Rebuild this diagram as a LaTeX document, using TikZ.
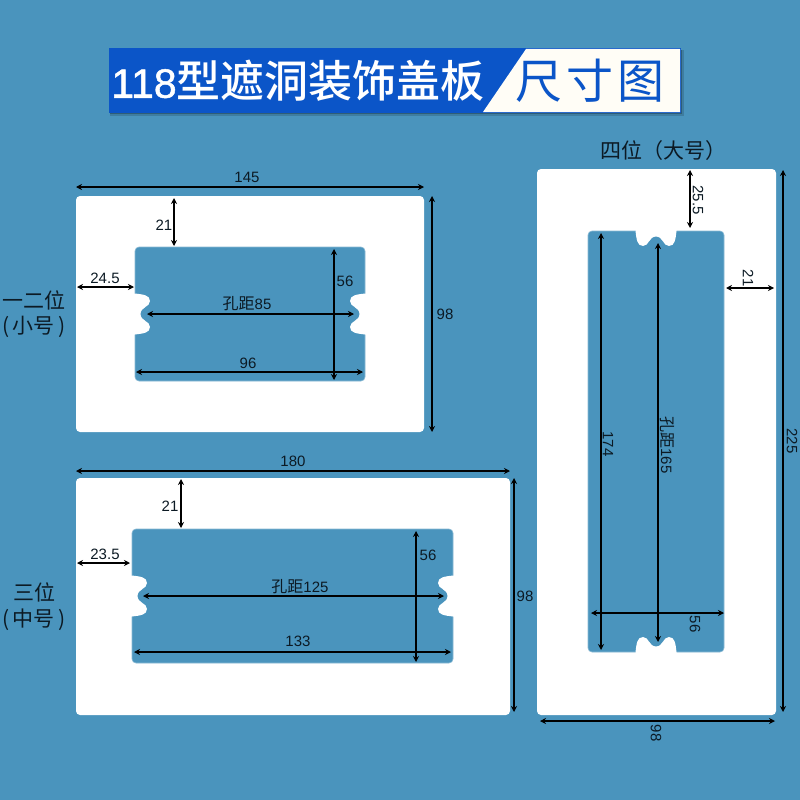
\documentclass[tikz,border=0pt]{standalone}
\usepackage{fontspec}
\setmainfont{Liberation Sans}
\newfontfamily\cjk{Noto Sans CJK SC}
\newfontfamily\cjkbold{Noto Sans CJK SC Medium}
\newfontfamily\titledigits[FakeBold=1.2]{Liberation Sans}
\usetikzlibrary{arrows.meta}

\definecolor{sheet}{HTML}{4A94BD}
\definecolor{barblue}{HTML}{0B55C8}
\definecolor{barcream}{HTML}{FFFDF6}
\definecolor{ink}{HTML}{0C1A24}

\tikzset{
  panel/.style={fill=white, rounded corners=4pt},
  hole/.style={fill=sheet, draw=sheet!65!white, line width=0.6pt, rounded corners=4pt},
  dimline/.style={{Stealth[length=6pt,width=6pt]}-{Stealth[length=6pt,width=6pt]}, line width=1.7pt, color=black},
  dimlabel/.style={inner sep=0pt, text=ink, font=\fontsize{15}{15}\selectfont},
  sizelabel/.style={inner sep=0pt, text=ink, font=\cjk\fontsize{21}{21}\selectfont},
  notch/.pic={
    \fill[white] (-1,-20.5) -- (0,-20.5) .. controls (8,-19.5) and (15,-19) .. (15,-13)
      .. controls (15,-7) and (5.5,-7) .. (5.5,0)
      .. controls (5.5,7) and (15,7) .. (15,13)
      .. controls (15,19) and (8,19.5) .. (0,20.5) -- (-1,20.5) -- cycle;
  }
}

\begin{document}
\begin{tikzpicture}[x=1pt, y=-1pt]
  \useasboundingbox (0,0) rectangle (800,800);
  \fill[sheet] (0,0) rectangle (800,800);

  % title bar
  \fill[black, opacity=0.15] (110,50) rectangle (684,116);
  \fill[black, opacity=0.25] (110,50) rectangle (682,114);
  \fill[barblue] (109,48) rectangle (681,113);
  \fill[barcream] (526,49) -- (680,49) -- (680,112) -- (483,112) -- cycle;
  \node[inner sep=0pt, text=white, font=\cjkbold\fontsize{44}{44}\selectfont] (titleleft) at (298,81) {{\titledigits\fontsize{41}{41}\selectfont 118}型遮洞装饰盖板};
  \node[inner sep=0pt, text=barblue, font=\cjk\fontsize{47}{47}\selectfont] (titleright) at (590,81) {尺\hspace{4pt}寸\hspace{4pt}图};

  % panels
  \fill[panel] (76,196) rectangle (424,432);
  \draw[hole] (135,247) rectangle (365,381);
  \pic at (135,314) {notch};
  \pic[rotate=180] at (365,314) {notch};

  \fill[panel] (76,478) rectangle (510,715);
  \draw[hole] (132,529) rectangle (453,663);
  \pic at (132,596) {notch};
  \pic[rotate=180] at (453,596) {notch};

  \fill[panel] (537,169) rectangle (776,715);
  \draw[hole] (588,231) rectangle (724,652);
  \pic[rotate=-90] at (656,231) {notch};
  \pic[rotate=90] at (656,652) {notch};

  % small panel
  \coordinate (sa) at (76,187);
  \coordinate (sb) at (424,187);
  \coordinate (sc) at (432,196);
  \coordinate (sd) at (432,432);
  \coordinate (se) at (174,198);
  \coordinate (sf) at (174,246);
  \coordinate (sg) at (77,287);
  \coordinate (sh) at (134,287);
  \coordinate (si) at (147,314);
  \coordinate (sj) at (354,314);
  \coordinate (sk) at (136,372);
  \coordinate (sl) at (363,372);
  \coordinate (sm) at (334,249);
  \coordinate (sn) at (334,380);
  \draw[dimline] (sa) -- (sb);
  \draw[dimline] (sc) -- (sd);
  \draw[dimline] (se) -- (sf);
  \draw[dimline] (sg) -- (sh);
  \draw[dimline] (si) -- (sj);
  \draw[dimline] (sk) -- (sl);
  \draw[dimline] (sm) -- (sn);
  \node[dimlabel] (swidth) at (247,177) {145};
  \node[dimlabel] (sheight) at (445,314) {98};
  \node[dimlabel] (stop) at (164,225) {21};
  \node[dimlabel] (sleft) at (105,278) {24.5};
  \node[dimlabel] (spitch) at (247,304) {{\cjk\fontsize{16}{16}\selectfont 孔距}85};
  \node[dimlabel] (sholew) at (248,363) {96};
  \node[dimlabel] (sholeh) at (345,281) {56};
  \node[sizelabel] (sname) at (34,300) {一二位};
  \node[sizelabel] (snote) at (34,327) {(\,小号\,)};

  % middle panel
  \coordinate (ma) at (76,471);
  \coordinate (mb) at (510,471);
  \coordinate (mc) at (514,478);
  \coordinate (md) at (514,712);
  \coordinate (me) at (181,479);
  \coordinate (mf) at (181,528);
  \coordinate (mg) at (77,563);
  \coordinate (mh) at (130,563);
  \coordinate (mi) at (143,596);
  \coordinate (mj) at (444,596);
  \coordinate (mk) at (134,652);
  \coordinate (ml) at (451,652);
  \coordinate (mm) at (416,531);
  \coordinate (mn) at (416,662);
  \draw[dimline] (ma) -- (mb);
  \draw[dimline] (mc) -- (md);
  \draw[dimline] (me) -- (mf);
  \draw[dimline] (mg) -- (mh);
  \draw[dimline] (mi) -- (mj);
  \draw[dimline] (mk) -- (ml);
  \draw[dimline] (mm) -- (mn);
  \node[dimlabel] (mwidth) at (293,461) {180};
  \node[dimlabel] (mheight) at (525,596) {98};
  \node[dimlabel] (mtop) at (170,506) {21};
  \node[dimlabel] (mleft) at (105,554) {23.5};
  \node[dimlabel] (mpitch) at (300,587) {{\cjk\fontsize{16}{16}\selectfont 孔距}125};
  \node[dimlabel] (mholew) at (298,641) {133};
  \node[dimlabel] (mholeh) at (428,555) {56};
  \node[sizelabel] (mname) at (34,592) {三位};
  \node[sizelabel] (mnote) at (34,620) {(\,中号\,)};

  % large panel
  \coordinate (la) at (540,721);
  \coordinate (lb) at (775,721);
  \coordinate (lc) at (783,170);
  \coordinate (ld) at (783,712);
  \coordinate (le) at (690,170);
  \coordinate (lf) at (690,228);
  \coordinate (lg) at (726,288);
  \coordinate (lh) at (774,288);
  \coordinate (li) at (658,243);
  \coordinate (lj) at (658,642);
  \coordinate (lk) at (601,233);
  \coordinate (ll) at (601,650);
  \coordinate (lm) at (591,613);
  \coordinate (ln) at (724,613);
  \draw[dimline] (la) -- (lb);
  \draw[dimline] (lc) -- (ld);
  \draw[dimline] (le) -- (lf);
  \draw[dimline] (lg) -- (lh);
  \draw[dimline] (li) -- (lj);
  \draw[dimline] (lk) -- (ll);
  \draw[dimline] (lm) -- (ln);
  \node[dimlabel, rotate=-90] (lwidth) at (656,733) {98};
  \node[dimlabel, rotate=-90] (lheight) at (792,441) {225};
  \node[dimlabel, rotate=-90] (ltop) at (698,200) {25.5};
  \node[dimlabel, rotate=-90] (lright) at (748,278) {21};
  \node[dimlabel, rotate=-90] (lpitch) at (667,445) {{\cjk\fontsize{16}{16}\selectfont 孔距}165};
  \node[dimlabel, rotate=-90] (lholeh) at (608,444) {174};
  \node[dimlabel, rotate=-90] (lholew) at (695,624) {56};
  \node[sizelabel] (lname) at (663,151) {四位（大号）};
\end{tikzpicture}
\end{document}
